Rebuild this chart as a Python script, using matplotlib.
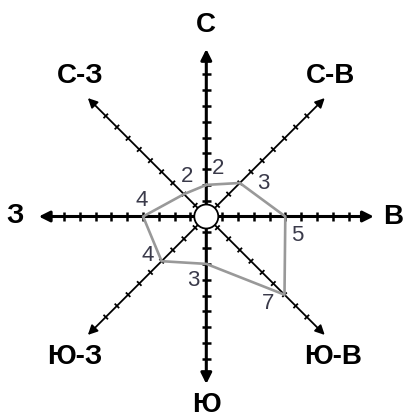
import numpy as np
import matplotlib
matplotlib.use('Agg')
import matplotlib.pyplot as plt
from matplotlib.patches import Circle

# wind rose data
directions = ['С', 'С-В', 'В', 'Ю-В', 'Ю', 'Ю-З', 'З', 'С-З']
values = [2, 3, 5, 7, 3, 4, 4, 2]
angles_deg = [90, 45, 0, -45, -90, -135, 180, 135]
n_ticks = 9

# layout (units: one tick step)
unit_px = 15.8
cx_px, cy_px = 206.3, 216.5
W, H = 407, 418
axis_len = 10.6
# value label offsets from the polygon vertex
val_off = [(0.76, 1.04), (1.48, -0.03), (0.76, -1.2), (-1.03, -0.55),
           (-0.82, -1.05), (-0.9, 0.36), (-0.11, 1.01), (0.21, 1.12)]
# direction label positions
dir_pos = [(0.0, 12.1), (7.85, 8.92), (11.8, 0.0), (8.05, -8.9),
           (0.0, -11.9), (-8.3, -8.9), (-12.1, 0.05), (-7.97, 8.92)]

plt.rcParams['font.family'] = ['Liberation Sans', 'DejaVu Sans']

fig = plt.figure(figsize=(W/100, H/100), dpi=100)
ax = fig.add_axes([0, 0, 1, 1])
ax.set_xlim(-cx_px/unit_px, (W-cx_px)/unit_px)
ax.set_ylim(-(H-cy_px)/unit_px, cy_px/unit_px)
ax.axis('off')

for i, a in enumerate(angles_deg):
    t = np.radians(a)
    ux, uy = np.cos(t), np.sin(t)
    main = a % 90 == 0
    lw = 2.2 if main else 1.3
    ax.annotate('', xy=(axis_len*ux, axis_len*uy), xytext=(0, 0),
                arrowprops=dict(arrowstyle='-|>', lw=lw, color='black',
                                shrinkA=0, shrinkB=0,
                                mutation_scale=16 if main else 14),
                zorder=2)
    half = 0.3 if main else 0.2
    for k in range(1, n_ticks + 1):
        px, py = k*ux, k*uy
        ax.plot([px - half*uy, px + half*uy], [py + half*ux, py - half*ux],
                color='black', lw=1.8 if main else 1.3, zorder=2,
                solid_capstyle='butt')
    ax.text(dir_pos[i][0], dir_pos[i][1], directions[i], fontsize=20,
            fontweight='bold', ha='center', va='center', zorder=5)

# polygon
xs = [v*np.cos(np.radians(a)) for v, a in zip(values, angles_deg)]
ys = [v*np.sin(np.radians(a)) for v, a in zip(values, angles_deg)]
ax.plot(xs + xs[:1], ys + ys[:1], color='#999999', lw=1.9, zorder=3)

for i in range(len(values)):
    ax.text(xs[i] + val_off[i][0], ys[i] + val_off[i][1], str(values[i]),
            fontsize=16, color='#3a3a4a', ha='center', va='center', zorder=5)

ax.add_patch(Circle((0, 0), 0.76, facecolor='white', edgecolor='black',
                    lw=1.3, zorder=4))

fig.savefig('out.png', dpi=100)
